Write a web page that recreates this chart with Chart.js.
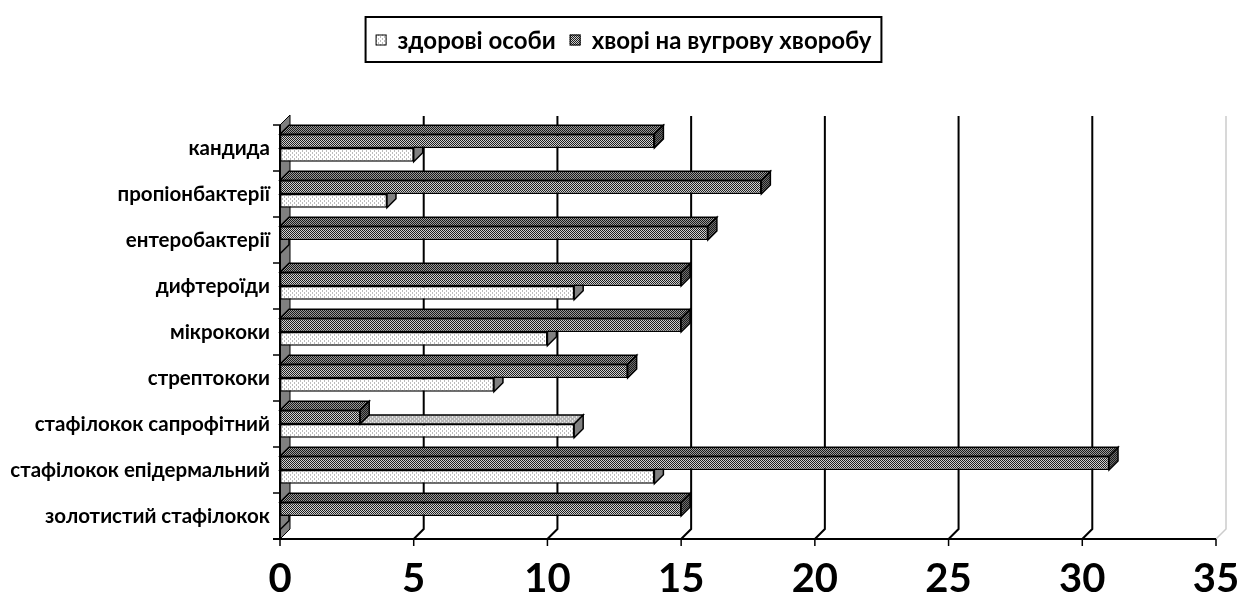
<!DOCTYPE html>
<html>
<head>
<meta charset="utf-8">
<script src="https://cdn.jsdelivr.net/npm/chart.js@4"></script>
<style>
  html, body { margin: 0; padding: 0; background: #fff; }
  #wrap { width: 1237px; height: 594px; }
</style>
</head>
<body>
<div id="wrap"><canvas id="chart"></canvas></div>
<script>
const categories = ['кандида', 'пропіонбактерії', 'ентеробактерії', 'дифтероїди', 'мікрококи',
    'стрептококи', 'стафілокок сапрофітний', 'стафілокок епідермальний', 'золотистий стафілокок'];
const healthy = [5, 4, 0, 11, 10, 8, 11, 14, 0];
const sick = [14, 18, 16, 15, 15, 13, 3, 31, 15];
const healthyLabel = 'здорові особи';
const sickLabel = 'хворі на вугрову хворобу';
const xTicks = [0, 5, 10, 15, 20, 25, 30, 35];

const depth = 9;
const wallDepth = 10;

// small fill patterns like the old excel hatching
const makePattern = (w, h, bg, fg, pts) => {
    const c = document.createElement('canvas');
    c.width = w;
    c.height = h;
    const g = c.getContext('2d');
    g.fillStyle = bg;
    g.fillRect(0, 0, w, h);
    g.fillStyle = fg;
    pts.forEach(([x, y]) => g.fillRect(x, y, 1, 1));
    return g.createPattern(c, 'repeat');
};

const sickFront = makePattern(2, 2, '#d0d0d0', '#1e1e1e', [[0, 0], [1, 1]]);
const sickTop = makePattern(2, 2, '#9a9a9a', '#1a1a1a', [[0, 0], [1, 1]]);
const sickSide = makePattern(2, 2, '#6e6e6e', '#1a1a1a', [[0, 0], [1, 1]]);
const healthyFront = makePattern(4, 4, '#ffffff', '#bdbdbd', [[0, 0], [0, 1], [2, 2], [2, 3]]);
const healthyTop = makePattern(4, 4, '#b4b4b4', '#e6e6e6', [[0, 0], [0, 1], [2, 2], [2, 3]]);
const healthySide = '#808080';

const faces = [
    { top: sickTop, side: sickSide },
    { top: healthyTop, side: healthySide }
];

const poly = (ctx, pts, fill) => {
    ctx.beginPath();
    ctx.moveTo(pts[0][0], pts[0][1]);
    for (let i = 1; i < pts.length; i++) ctx.lineTo(pts[i][0], pts[i][1]);
    ctx.closePath();
    ctx.fillStyle = fill;
    ctx.fill();
    ctx.stroke();
};

const scene3d = {
    id: 'scene3d',
    beforeDatasetsDraw(chart) {
        const ctx = chart.ctx;
        const { top, bottom, left, right } = chart.chartArea;
        const x = chart.scales.x;
        const y = chart.scales.y;
        ctx.save();

        // left wall
        ctx.strokeStyle = '#000';
        ctx.lineWidth = 1;
        poly(ctx, [[left, top], [left + wallDepth, top - wallDepth],
            [left + wallDepth, bottom - wallDepth], [left, bottom]], '#808080');

        // back wall grid lines and floor diagonals
        xTicks.forEach((v) => {
            if (v === 0) return;
            const px = x.getPixelForValue(v);
            const last = v === xTicks[xTicks.length - 1];
            ctx.strokeStyle = last ? '#cccccc' : '#000';
            ctx.lineWidth = last ? 1.5 : 2;
            ctx.beginPath();
            ctx.moveTo(px + wallDepth, top - wallDepth + 1);
            ctx.lineTo(px + wallDepth, bottom - wallDepth);
            ctx.lineTo(px, bottom);
            ctx.stroke();
        });

        // axes
        ctx.strokeStyle = '#000';
        ctx.lineWidth = 2;
        ctx.beginPath();
        ctx.moveTo(left, top);
        ctx.lineTo(left, bottom);
        ctx.moveTo(left - 7, bottom);
        ctx.lineTo(right, bottom);
        ctx.stroke();

        ctx.lineWidth = 1.5;
        ctx.beginPath();
        for (let i = 0; i <= categories.length; i++) {
            const py = y.getPixelForValue(i - 0.5);
            ctx.moveTo(left - 7, py);
            ctx.lineTo(left, py);
        }
        xTicks.forEach((v) => {
            const px = x.getPixelForValue(v);
            ctx.moveTo(px, bottom);
            ctx.lineTo(px, bottom + 7);
        });
        ctx.stroke();
        ctx.restore();
    },
    afterDatasetDraw(chart, args) {
        const ctx = chart.ctx;
        const f = faces[args.index];
        ctx.save();
        ctx.strokeStyle = '#000';
        ctx.lineWidth = 1.5;
        args.meta.data.forEach((bar) => {
            const { x, y, base, height } = bar.getProps(['x', 'y', 'base', 'height'], true);
            const t = y - height / 2;
            const b = y + height / 2;
            poly(ctx, [[base, t], [x, t], [x + depth, t - depth], [base + depth, t - depth]], f.top);
            poly(ctx, [[x, t], [x + depth, t - depth], [x + depth, b - depth], [x, b]], f.side);
        });
        ctx.restore();
    },
    afterDraw(chart) {
        // legend with frame, healthy first
        const ctx = chart.ctx;
        const items = [
            { label: healthyLabel, fill: healthyFront },
            { label: sickLabel, fill: sickFront }
        ];
        ctx.save();
        ctx.font = 'bold 24px Lato';
        ctx.textBaseline = 'middle';
        const box = 11, gap = 11, itemGap = 14, pad = 10;
        let total = pad * 2 - itemGap;
        items.forEach((it) => {
            it.w = box + gap + ctx.measureText(it.label).width;
            total += it.w + itemGap;
        });
        const cx = 623.5, cy = 40;
        let px = cx - total / 2;
        ctx.strokeStyle = '#000';
        ctx.lineWidth = 2;
        ctx.strokeRect(px, 17, total, 45);
        px += pad;
        ctx.lineWidth = 1;
        items.forEach((it) => {
            ctx.fillStyle = it.fill;
            ctx.fillRect(px, cy - box / 2, box, box);
            ctx.strokeRect(px + 0.5, cy - box / 2 + 0.5, box - 1, box - 1);
            ctx.fillStyle = '#000';
            ctx.fillText(it.label, px + box + gap, cy + 1);
            px += it.w + itemGap;
        });
        ctx.restore();
    }
};

const chart = new Chart(document.getElementById('chart'), {
    type: 'bar',
    data: {
        labels: categories,
        datasets: [
            {
                label: sickLabel,
                data: sick,
                backgroundColor: sickFront,
                borderColor: '#000',
                borderWidth: 1.5,
                borderSkipped: false,
                categoryPercentage: 0.6,
                barPercentage: 1
            },
            {
                label: healthyLabel,
                data: healthy,
                backgroundColor: healthyFront,
                borderColor: '#000',
                borderWidth: 1.5,
                borderSkipped: false,
                categoryPercentage: 0.6,
                barPercentage: 1
            }
        ]
    },
    options: {
        indexAxis: 'y',
        responsive: true,
        maintainAspectRatio: false,
        animation: false,
        layout: { padding: { top: 125, right: 21, left: 0, bottom: 0 } },
        plugins: {
            legend: { display: false },
            tooltip: { enabled: false }
        },
        scales: {
            x: {
                min: 0,
                max: 35,
                afterBuildTicks: (s) => { s.ticks = xTicks.map((v) => ({ value: v })); },
                afterFit: (s) => { s.height = 55; s.paddingLeft = 0; s.paddingRight = 0; },
                grid: { display: false, drawTicks: false },
                border: { display: false },
                ticks: {
                    color: '#000',
                    padding: 16,
                    maxRotation: 0,
                    font: { family: 'Lato', size: 40, weight: 'bold' }
                }
            },
            y: {
                afterFit: (s) => { s.width = 280; s.paddingTop = 0; s.paddingBottom = 0; },
                grid: { display: false, drawTicks: false },
                border: { display: false },
                ticks: {
                    color: '#000',
                    padding: 10,
                    font: { family: 'Lato', size: 20.5, weight: 'bold' }
                }
            }
        }
    },
    plugins: [scene3d]
});
</script>
</body>
</html>
